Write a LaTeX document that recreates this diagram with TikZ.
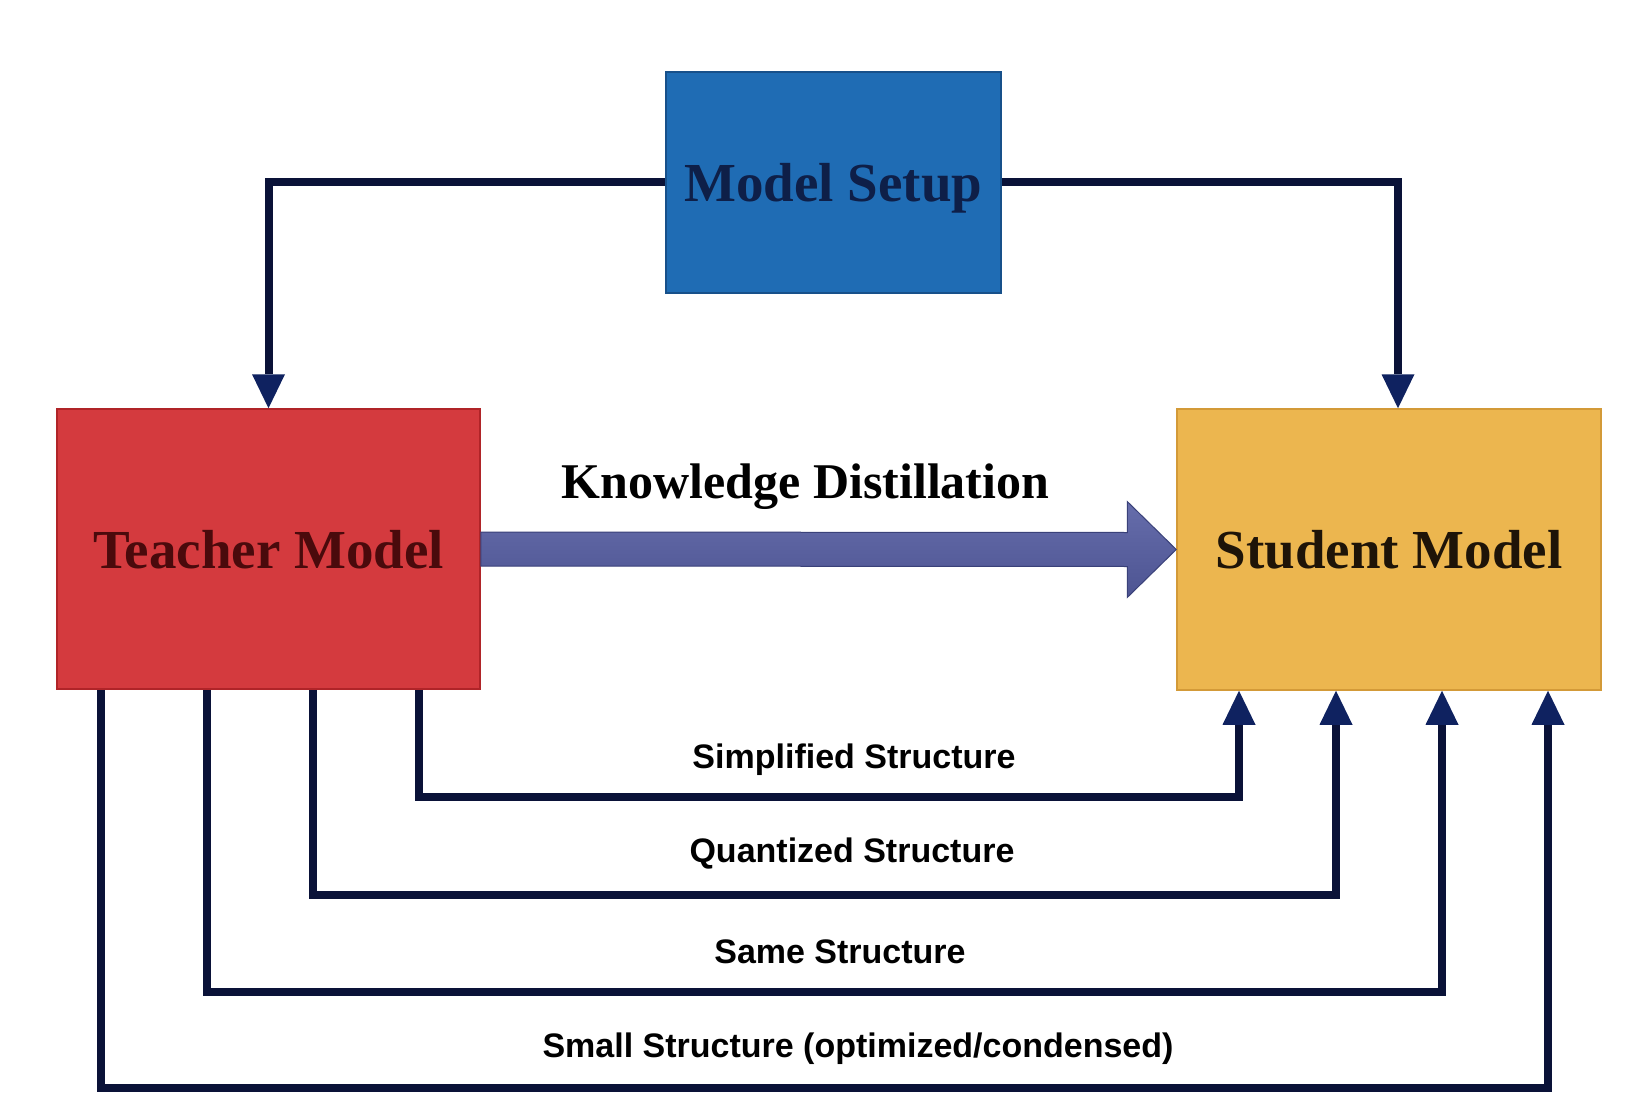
\documentclass[tikz,border=0pt]{standalone}
\usepackage{fontspec}
\usepackage{graphicx}
\setmainfont{Liberation Serif}
\newfontfamily\labfont{Liberation Sans}
\usetikzlibrary{arrows.meta,calc}
\definecolor{setupblue}{HTML}{1F6CB4}
\definecolor{setupedge}{HTML}{17508A}
\definecolor{setuptext}{HTML}{0E1F48}
\definecolor{teachred}{HTML}{D43A3E}
\definecolor{teachedge}{HTML}{B02428}
\definecolor{teachtext}{HTML}{4A0A0C}
\definecolor{studorange}{HTML}{ECB64F}
\definecolor{studedge}{HTML}{D39A38}
\definecolor{studtext}{HTML}{1E1408}
\definecolor{kdtop}{HTML}{666DAB}
\definecolor{kdbot}{HTML}{4D5492}
\definecolor{kdedge}{HTML}{3A4179}
\definecolor{connnavy}{HTML}{0A1238}
\definecolor{headnavy}{HTML}{0F2260}
\begin{document}
\begin{tikzpicture}[x=1pt,y=-1pt,
  box/.style={rectangle, inner sep=0pt, text depth=0pt, line width=1.5pt,
    font=\fontsize{55}{60}\selectfont\bfseries},
  conn/.style={draw=connnavy, line width=8pt, line join=miter,
    -{Triangle[width=33pt,length=34pt,line width=0pt,color=headnavy,fill=headnavy]}},
  kdarrow/.style={top color=kdtop, bottom color=kdbot, draw=kdedge, line width=1pt, line join=miter},
  lab/.style={anchor=base, inner sep=0pt, text=black,
    font=\labfont\fontsize{34}{38}\selectfont\bfseries}]
\useasboundingbox[fill=white] (0,0) rectangle (1634,1102);

% boxes
\node[box, fill=setupblue, draw=setupedge, minimum width=335pt, minimum height=221pt,
  text=setuptext] (setup) at (833.5,182.5) {Model Setup};
\node[box, fill=teachred, draw=teachedge, minimum width=423pt, minimum height=280pt,
  text=teachtext] (teacher) at (268.5,549) {Teacher Model};
\node[box, fill=studorange, draw=studedge, minimum width=424pt, minimum height=281pt,
  text=studtext] (student) at (1389,549.5) {Student Model};

% top connectors
\coordinate (tl) at (268.5,182.5);
\coordinate (tr) at (1398,182.5);
\draw[conn] (setup.west) -- (tl) -- (teacher.north);
\draw[conn] (setup.east) -- (tr) -- (student.north -| tr);

% knowledge distillation arrow
\coordinate (kdh) at ($(student.west)+(-49,0)$);
\path[kdarrow] ($(teacher.east)+(0,-17)$) -- ($(kdh)+(0,-17)$) -- ($(kdh)+(0,-48)$)
  -- (student.west) -- ($(kdh)+(0,48)$) -- ($(kdh)+(0,17)$) -- ($(teacher.east)+(0,17)$) -- cycle;
\node[anchor=base, inner sep=0pt, font=\fontsize{50}{54}\selectfont\bfseries]
  (kdlab) at (805.5,498) {Knowledge Distillation};

% bottom connectors
\coordinate (a1) at (419,797);  \coordinate (b1) at (1239,797);
\coordinate (a2) at (313,895);  \coordinate (b2) at (1336,895);
\coordinate (a3) at (207,992);  \coordinate (b3) at (1442,992);
\coordinate (a4) at (101,1088); \coordinate (b4) at (1548,1088);
\draw[conn] (teacher.south -| a1) -- (a1) -- (b1) -- (student.south -| b1);
\draw[conn] (teacher.south -| a2) -- (a2) -- (b2) -- (student.south -| b2);
\draw[conn] (teacher.south -| a3) -- (a3) -- (b3) -- (student.south -| b3);
\draw[conn] (teacher.south -| a4) -- (a4) -- (b4) -- (student.south -| b4);

% labels
\node[lab] (l1) at (854,768) {Simplified Structure};
\node[lab] (l2) at (852,862) {Quantized Structure};
\node[lab] (l3) at (840,963) {Same Structure};
\node[lab] (l4) at (858,1057) {Small Structure (optimized/condensed)};
\end{tikzpicture}
\end{document}
